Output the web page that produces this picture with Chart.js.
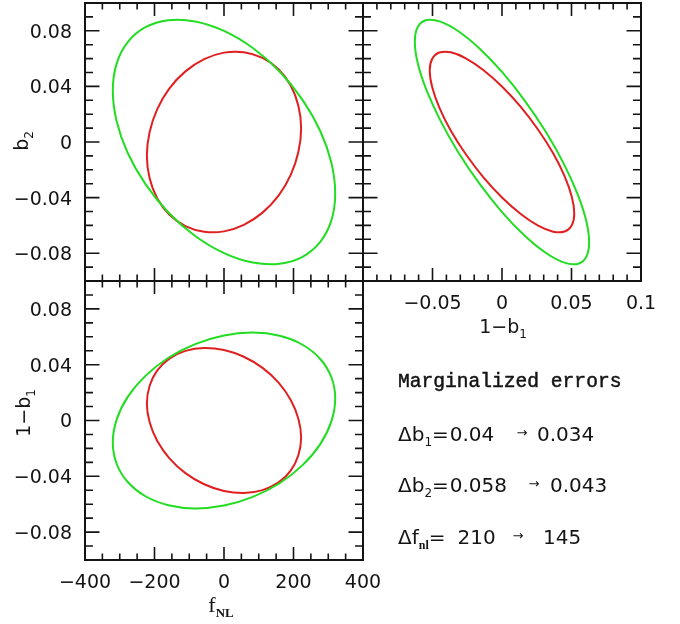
<!DOCTYPE html>
<html>
<head>
<meta charset="utf-8">
<script src="https://cdn.jsdelivr.net/npm/chart.js@4.4.0/dist/chart.umd.min.js"></script>
<style>
  html, body { margin: 0; padding: 0; background: #fff; }
  #wrap { position: relative; width: 680px; height: 624px; }
  #wrap canvas { position: absolute; left: 0; top: 0; }
</style>
</head>
<body>
<div id="wrap">
  <canvas id="fnlB2" width="680" height="624"></canvas>
  <canvas id="b1B2" width="680" height="624"></canvas>
  <canvas id="fnlB1" width="680" height="624"></canvas>
</div>
<script>
// axis ranges
const fnlRange = [-400, 400];
const biasRange = [-0.1, 0.1];

// ticks and tick labels
const fnlMajorTicks = [-200, 0, 200];
const fnlMinorTicks = [-350, -300, -250, -150, -100, -50, 50, 100, 150, 250, 300, 350];
const fnlTickValues = [-400, -200, 0, 200, 400];
const fnlTickLabels = ['−400', '−200', '0', '200', '400'];

const biasMajorTicks = [-0.08, -0.04, 0, 0.04, 0.08];
const biasMinorTicks = [-0.09, -0.07, -0.06, -0.05, -0.03, -0.02, -0.01, 0.01, 0.02, 0.03, 0.05, 0.06, 0.07, 0.09];
const biasTickLabels = ['−0.08', '−0.04', '0', '0.04', '0.08'];

const b1MajorTicks = [-0.05, 0, 0.05];
const b1MinorTicks = [-0.09, -0.08, -0.07, -0.06, -0.04, -0.03, -0.02, -0.01, 0.01, 0.02, 0.03, 0.04, 0.06, 0.07, 0.08, 0.09];
const b1TickValues = [-0.05, 0, 0.05, 0.1];
const b1TickLabels = ['−0.05', '0', '0.05', '0.1'];

// contours: [x, y]; green = before, red = after
const fnlB2Wide = [[320,-0.0370],[309,-0.0150],[277,0.0079],[226,0.0303],[160,0.0507],[83,0.0676],[0,0.0799],[-83,0.0867],[-160,0.0876],[-226,0.0826],[-277,0.0719],[-309,0.0564],[-320,0.0370],[-309,0.0150],[-277,-0.0079],[-226,-0.0303],[-160,-0.0507],[-83,-0.0676],[0,-0.0799],[83,-0.0867],[160,-0.0876],[226,-0.0826],[277,-0.0719],[309,-0.0564]];
const fnlB2Tight = [[222,0.0098],[214,0.0261],[192,0.0406],[157,0.0523],[111,0.0605],[57,0.0646],[0,0.0643],[-57,0.0596],[-111,0.0508],[-157,0.0386],[-192,0.0237],[-214,0.0072],[-222,-0.0098],[-214,-0.0261],[-192,-0.0406],[-157,-0.0523],[-111,-0.0605],[-57,-0.0646],[0,-0.0643],[57,-0.0596],[111,-0.0508],[157,-0.0386],[192,-0.0237],[214,-0.0072]];

const b1B2Wide = [[0.0627,-0.0722],[0.0606,-0.0567],[0.0543,-0.0373],[0.0443,-0.0154],[0.0314,0.0075],[0.0162,0.0300],[0,0.0504],[-0.0162,0.0673],[-0.0314,0.0797],[-0.0443,0.0866],[-0.0543,0.0877],[-0.0606,0.0827],[-0.0627,0.0722],[-0.0606,0.0567],[-0.0543,0.0373],[-0.0443,0.0154],[-0.0314,-0.0075],[-0.0162,-0.0300],[0,-0.0504],[0.0162,-0.0673],[0.0314,-0.0797],[0.0443,-0.0866],[0.0543,-0.0877],[0.0606,-0.0827]];
const b1B2Tight = [[0.0520,-0.0514],[0.0502,-0.0393],[0.0450,-0.0245],[0.0368,-0.0081],[0.0260,0.0088],[0.0135,0.0252],[0,0.0399],[-0.0135,0.0518],[-0.0260,0.0602],[-0.0368,0.0645],[-0.0450,0.0644],[-0.0502,0.0599],[-0.0520,0.0514],[-0.0502,0.0393],[-0.0450,0.0245],[-0.0368,0.0081],[-0.0260,-0.0088],[-0.0135,-0.0252],[0,-0.0399],[0.0135,-0.0518],[0.0260,-0.0602],[0.0368,-0.0645],[0.0450,-0.0644],[0.0502,-0.0599]];

const fnlB1Wide = [[320,0.0158],[309,0.0310],[277,0.0441],[226,0.0543],[160,0.0607],[83,0.0630],[0,0.0610],[-83,0.0548],[-160,0.0450],[-226,0.0320],[-277,0.0169],[-309,0.0006],[-320,-0.0158],[-309,-0.0310],[-277,-0.0441],[-226,-0.0543],[-160,-0.0607],[-83,-0.0630],[0,-0.0610],[83,-0.0548],[160,-0.0450],[226,-0.0320],[277,-0.0169],[309,-0.0006]];
const fnlB1Tight = [[222,-0.0122],[214,0.0013],[192,0.0147],[157,0.0271],[111,0.0377],[57,0.0457],[0,0.0505],[-57,0.0520],[-111,0.0499],[-157,0.0444],[-192,0.0359],[-214,0.0249],[-222,0.0122],[-214,-0.0013],[-192,-0.0147],[-157,-0.0271],[-111,-0.0377],[-57,-0.0457],[0,-0.0505],[57,-0.0520],[111,-0.0499],[157,-0.0444],[192,-0.0359],[214,-0.0249]];

// marginalized errors, before -> after
const errorSymbols = [['b', '1'], ['b', '2'], ['f', 'nl']];
const errorsBefore = [0.04, 0.058, 210];
const errorsAfter = [0.034, 0.043, 145];

const ink = '#141414';
const green = '#22dd22';
const red = '#e02020';
const sans = '"DejaVu Sans", sans-serif';
const tickFont = '19px ' + sans;

function drawRich(ctx, parts, x, y, align, rot) {
  ctx.save();
  ctx.translate(x, y);
  if (rot) ctx.rotate(rot);
  ctx.textAlign = 'left';
  ctx.textBaseline = 'alphabetic';
  let w = 0;
  parts.forEach(p => { ctx.font = p.f; w += ctx.measureText(p.t).width; });
  let cx = align === 'center' ? -w / 2 : 0;
  parts.forEach(p => {
    ctx.font = p.f;
    ctx.fillText(p.t, cx, p.dy || 0);
    cx += ctx.measureText(p.t).width;
  });
  ctx.restore();
  return w;
}

const oneMinusB1 = [
  { t: '1−b', f: '19px ' + sans },
  { t: '1', f: '12px ' + sans, dy: 5 }
];

// frame, inward ticks on all four sides, tick labels and axis titles
function panelPlugin(cfg) {
  return {
    id: 'panelFrame',
    afterDatasetsDraw(chart) {
      const { ctx, chartArea: a } = chart;
      const xs = chart.scales.x, ys = chart.scales.y;
      ctx.save();
      ctx.strokeStyle = ink;
      ctx.lineWidth = 1.6;
      ctx.beginPath();
      const xTick = (v, len) => {
        const px = xs.getPixelForValue(v);
        ctx.moveTo(px, a.bottom); ctx.lineTo(px, a.bottom - len);
        ctx.moveTo(px, a.top); ctx.lineTo(px, a.top + len);
      };
      const yTick = (v, len) => {
        const py = ys.getPixelForValue(v);
        ctx.moveTo(a.left, py); ctx.lineTo(a.left + len, py);
        ctx.moveTo(a.right, py); ctx.lineTo(a.right - len, py);
      };
      cfg.xMinor.forEach(v => xTick(v, 6.5));
      cfg.xMajor.forEach(v => xTick(v, 13));
      cfg.yMinor.forEach(v => yTick(v, 8));
      cfg.yMajor.forEach(v => yTick(v, 14.5));
      ctx.stroke();
      ctx.lineWidth = 2;
      ctx.strokeRect(a.left, a.top, a.right - a.left, a.bottom - a.top);

      ctx.fillStyle = ink;
      ctx.font = tickFont;
      if (cfg.xLabels) {
        ctx.textAlign = 'center';
        ctx.textBaseline = 'alphabetic';
        cfg.xLabels[0].forEach((v, i) => {
          ctx.fillText(cfg.xLabels[1][i], xs.getPixelForValue(v), a.bottom + 27.5);
        });
      }
      if (cfg.yLabels) {
        ctx.textAlign = 'right';
        ctx.textBaseline = 'alphabetic';
        cfg.yLabels[0].forEach((v, i) => {
          ctx.fillText(cfg.yLabels[1][i], a.left - 13, ys.getPixelForValue(v) + 6.9);
        });
      }
      (cfg.titles || []).forEach(t => drawRich(ctx, t.parts, t.x, t.y, 'center', t.rot));
      ctx.restore();
    }
  };
}

// closed contour: wrap the ring by one point each side so the spline is smooth
// where it closes, then hide the two extra segments
function ringSet(pts, color) {
  const ring = [pts[pts.length - 1], ...pts, pts[0], pts[1]];
  const last = ring.length - 1;
  return {
    data: ring.map(p => ({ x: p[0], y: p[1] })),
    showLine: true,
    borderColor: color,
    borderWidth: 2,
    pointRadius: 0,
    tension: 0.34,
    fill: false,
    segment: {
      borderColor: c => (c.p0DataIndex === 0 || c.p1DataIndex === last) ? 'rgba(0,0,0,0)' : color
    }
  };
}

function makePanel(id, pad, xRange, cfg, sets, extra) {
  return new Chart(document.getElementById(id), {
    type: 'scatter',
    data: { datasets: sets },
    options: {
      responsive: false,
      animation: false,
      devicePixelRatio: 1,
      events: [],
      layout: { padding: pad },
      plugins: { legend: { display: false }, tooltip: { enabled: false } },
      scales: {
        x: { type: 'linear', min: xRange[0], max: xRange[1], display: false },
        y: { type: 'linear', min: biasRange[0], max: biasRange[1], display: false }
      }
    },
    plugins: [panelPlugin(cfg)].concat(extra || [])
  });
}

// text block with the marginalized errors
const errorNotes = {
  id: 'errorNotes',
  afterDraw(chart) {
    const ctx = chart.ctx;
    ctx.save();
    ctx.fillStyle = ink;
    ctx.strokeStyle = ink;
    ctx.textAlign = 'left';
    ctx.textBaseline = 'alphabetic';
    ctx.font = '19.6px "Liberation Mono", monospace';
    ctx.fillText('Marginalized errors', 398, 387);
    ctx.lineWidth = 0.5;
    ctx.strokeText('Marginalized errors', 398, 387);

    const big = '20px ' + sans;
    const baselines = [440.5, 492, 544];
    const gapAfterEq = [1, 1, 12];
    const arrowX = [522, 534, 518];
    const afterX = [537, 550, 543];
    errorSymbols.forEach((s, i) => {
      const sub = s[0] === 'f'
        ? { t: s[1], f: 'bold 12px "Liberation Serif", serif', dy: 5 }
        : { t: s[1], f: '12px ' + sans, dy: 5 };
      const w = drawRich(ctx, [{ t: 'Δ' + s[0], f: big }, sub, { t: '=', f: big }],
        398, baselines[i], 'left');
      ctx.font = big;
      ctx.textAlign = 'left';
      ctx.fillText(String(errorsBefore[i]), 398 + w + gapAfterEq[i], baselines[i]);
      ctx.fillText(String(errorsAfter[i]), afterX[i], baselines[i]);
      ctx.font = '13px ' + sans;
      ctx.textAlign = 'center';
      ctx.textBaseline = 'middle';
      ctx.fillText('→', arrowX[i], baselines[i] - 7);
      ctx.textBaseline = 'alphabetic';
    });
    ctx.restore();
  }
};

// f_NL vs b2 (top left)
makePanel('fnlB2', { left: 85, top: 3, right: 317, bottom: 343 }, fnlRange, {
  xMajor: fnlMajorTicks, xMinor: fnlMinorTicks,
  yMajor: biasMajorTicks, yMinor: biasMinorTicks,
  yLabels: [biasMajorTicks, biasTickLabels],
  titles: [{ parts: [{ t: 'b', f: '19px ' + sans }, { t: '2', f: '12px ' + sans, dy: 5 }], x: 28, y: 141, rot: -Math.PI / 2 }]
}, [ringSet(fnlB2Wide, green), ringSet(fnlB2Tight, red)]);

// 1-b1 vs b2 (top right)
makePanel('b1B2', { left: 363, top: 3, right: 39, bottom: 343 }, biasRange, {
  xMajor: b1MajorTicks, xMinor: b1MinorTicks,
  yMajor: biasMajorTicks, yMinor: biasMinorTicks,
  xLabels: [b1TickValues, b1TickLabels],
  titles: [{ parts: oneMinusB1, x: 503, y: 333 }]
}, [ringSet(b1B2Wide, green), ringSet(b1B2Tight, red)]);

// f_NL vs 1-b1 (bottom left)
makePanel('fnlB1', { left: 85, top: 281, right: 317, bottom: 64 }, fnlRange, {
  xMajor: fnlMajorTicks, xMinor: fnlMinorTicks,
  yMajor: biasMajorTicks, yMinor: biasMinorTicks,
  xLabels: [fnlTickValues, fnlTickLabels],
  yLabels: [biasMajorTicks, biasTickLabels],
  titles: [
    { parts: oneMinusB1, x: 30, y: 413, rot: -Math.PI / 2 },
    { parts: [{ t: 'f', f: '22px "Liberation Serif", serif' }, { t: 'NL', f: 'bold 13px "Liberation Serif", serif', dy: 5 }], x: 221, y: 612 }
  ]
}, [ringSet(fnlB1Wide, green), ringSet(fnlB1Tight, red)], [errorNotes]);
</script>
</body>
</html>
